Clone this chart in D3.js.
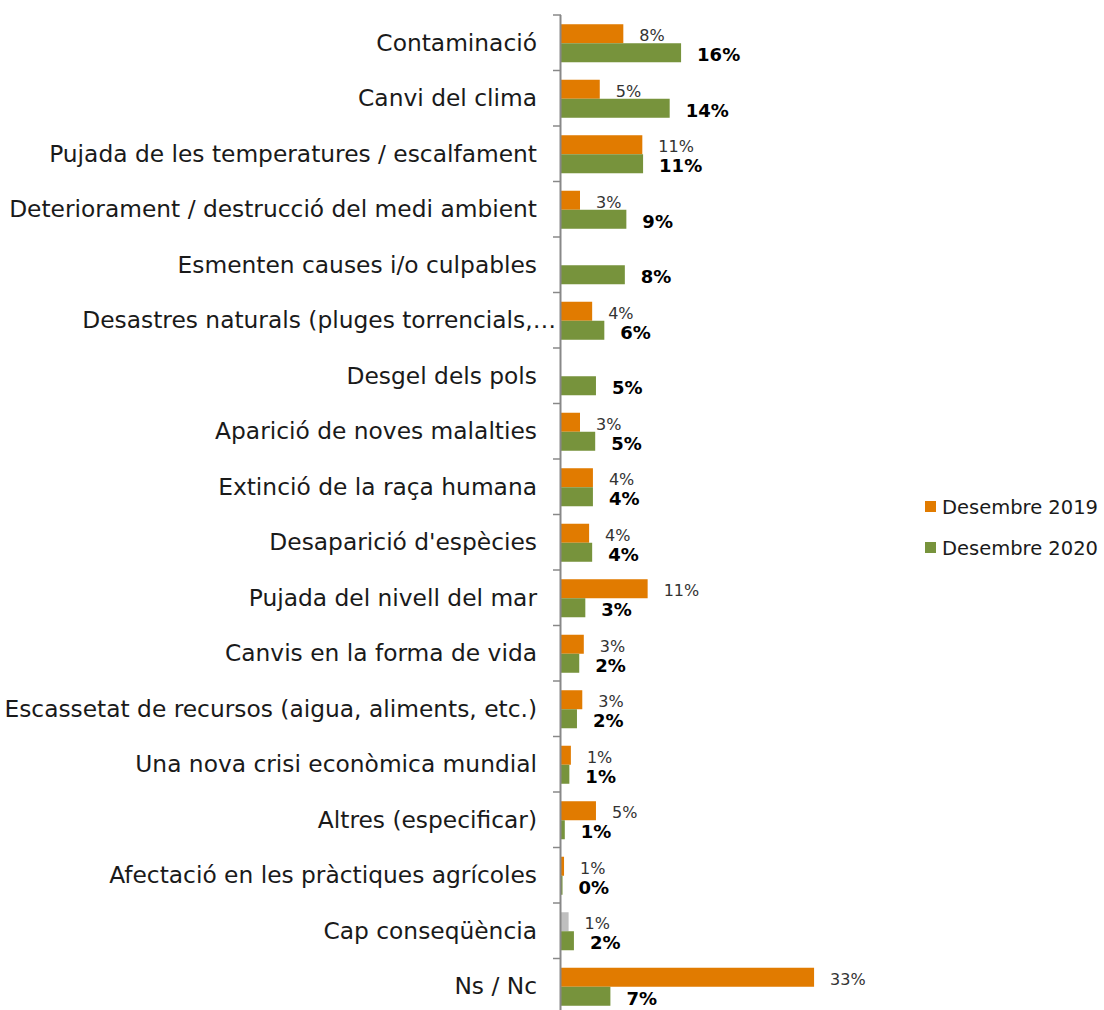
<!DOCTYPE html>
<html>
<head>
<meta charset="utf-8">
<script src="https://cdn.jsdelivr.net/npm/d3@7"></script>
<style>
  body { margin: 0; background: #fff; }
  svg { display: block; }
</style>
</head>
<body>
<div id="grafic"></div>
<script>
// Dades llegides del gràfic
var categories = [
  "Contaminació",
  "Canvi del clima",
  "Pujada de les temperatures / escalfament",
  "Deteriorament / destrucció del medi ambient",
  "Esmenten causes i/o culpables",
  "Desastres naturals (pluges torrencials,…",
  "Desgel dels pols",
  "Aparició de noves malalties",
  "Extinció de la raça humana",
  "Desaparició d'espècies",
  "Pujada del nivell del mar",
  "Canvis en la forma de vida",
  "Escassetat de recursos (aigua, aliments, etc.)",
  "Una nova crisi econòmica mundial",
  "Altres (especificar)",
  "Afectació en les pràctiques agrícoles",
  "Cap conseqüència",
  "Ns / Nc"
]
var series = ["Desembre 2019", "Desembre 2020"]
var valors2019 = [8.2, 5.1, 10.7, 2.5, null, 4.1, null, 2.5, 4.2, 3.7, 11.4, 3.0, 2.8, 1.3, 4.6, 0.4, 1.0, 33.3]
var valors2020 = [15.8, 14.3, 10.8, 8.6, 8.4, 5.7, 4.6, 4.5, 4.2, 4.1, 3.2, 2.4, 2.1, 1.1, 0.5, 0.2, 1.7, 6.5]
var etiquetes2019 = ["8%", "5%", "11%", "3%", "", "4%", "", "3%", "4%", "4%", "11%", "3%", "3%", "1%", "5%", "1%", "1%", "33%"]
var etiquetes2020 = ["16%", "14%", "11%", "9%", "8%", "6%", "5%", "5%", "4%", "4%", "3%", "2%", "2%", "1%", "1%", "0%", "2%", "7%"]

var width = 1104
var height = 1010
var taronja = "#E17B00"
var verd = "#77933C"
var gris = "#BFBFBF"
var font = "'Century Gothic', 'DejaVu Sans', sans-serif"

var svg = d3.select("#grafic")
  .append("svg")
  .attr("width", width)
  .attr("height", height)

// escales
var y = d3.scaleBand()
  .domain(categories)
  .range([15, 15 + categories.length * 55.5])
  .padding(0)

var ySerie = d3.scaleBand()
  .domain(series)
  .range([0, y.bandwidth()])
  .paddingInner(0)
  .paddingOuter(0.46)

var x = d3.scaleLinear()
  .domain([0, 35])
  .range([561, 561 + 35 * 7.6])

var dades = categories.map(function(c, i) {
  return {
    cat: c,
    valors: [
      {serie: series[0], v: valors2019[i], txt: etiquetes2019[i]},
      {serie: series[1], v: valors2020[i], txt: etiquetes2020[i]}
    ]
  }
})

// barres
var grups = svg.append("g")
  .selectAll("g")
  .data(dades)
  .join("g")
  .attr("transform", d => "translate(0," + (y(d.cat) + 0.5) + ")")

grups.selectAll("rect")
  .data(d => d.valors.filter(v => v.v != null).map(v => Object.assign({cat: d.cat}, v)))
  .join("rect")
  .attr("x", x(0))
  .attr("y", d => ySerie(d.serie))
  .attr("width", d => x(d.v) - x(0))
  .attr("height", ySerie.bandwidth())
  .attr("fill", function(d) {
    if (d.serie == series[1]) return verd
    return d.cat == "Cap conseqüència" ? gris : taronja
  })

// etiquetes de dades
grups.selectAll("text")
  .data(d => d.valors.filter(v => v.v != null))
  .join("text")
  .attr("x", d => x(d.v) + 16)
  .attr("y", d => ySerie(d.serie) + ySerie.bandwidth() / 2 + 2)
  .attr("dominant-baseline", "central")
  .attr("font-family", font)
  .attr("font-size", d => d.serie == series[1] ? "18px" : "16px")
  .attr("font-weight", d => d.serie == series[1] ? "bold" : "normal")
  .attr("fill", d => d.serie == series[1] ? "#000" : "#333")
  .text(d => d.txt)

// eix vertical
var eix = svg.append("g")
eix.append("line")
  .attr("x1", x(0) - 0.5).attr("x2", x(0) - 0.5)
  .attr("y1", y.range()[0]).attr("y2", height)
  .attr("stroke", "#888").attr("stroke-width", 2)

eix.selectAll("line.tick")
  .data(categories)
  .join("line")
  .attr("class", "tick")
  .attr("x1", x(0) - 8).attr("x2", x(0))
  .attr("y1", d => y(d)).attr("y2", d => y(d))
  .attr("stroke", "#888").attr("stroke-width", 1.5)

// etiquetes de categoria (la truncada sobresurt amb els punts suspensius)
var etiq = svg.append("g")
  .selectAll("text")
  .data(categories)
  .join("text")
  .attr("x", d => d.endsWith("…") ? 556 : 537)
  .attr("y", d => y(d) + y.bandwidth() / 2)
  .attr("text-anchor", "end")
  .attr("dominant-baseline", "central")
  .attr("font-family", font)
  .attr("font-size", "20px")
  .attr("fill", "#1a1a1a")
  .text(d => d)

// ajusta la mida de la lletra a l'amplada de l'original
var llarg = etiq.filter(d => d == categories[2]).node().getComputedTextLength()
var fs = 20 * 488 / llarg
etiq.attr("font-size", fs + "px")

// llegenda
var llegenda = svg.append("g")
  .selectAll("g")
  .data(series)
  .join("g")
  .attr("transform", (d, i) => "translate(925," + (501 + i * 41) + ")")

llegenda.append("rect")
  .attr("width", 11).attr("height", 11)
  .attr("fill", (d, i) => i == 0 ? taronja : verd)

llegenda.append("text")
  .attr("x", 17)
  .attr("y", 6)
  .attr("dominant-baseline", "central")
  .attr("font-family", font)
  .attr("font-size", "19.5px")
  .attr("fill", "#1a1a1a")
  .text(d => d)
</script>
</body>
</html>
